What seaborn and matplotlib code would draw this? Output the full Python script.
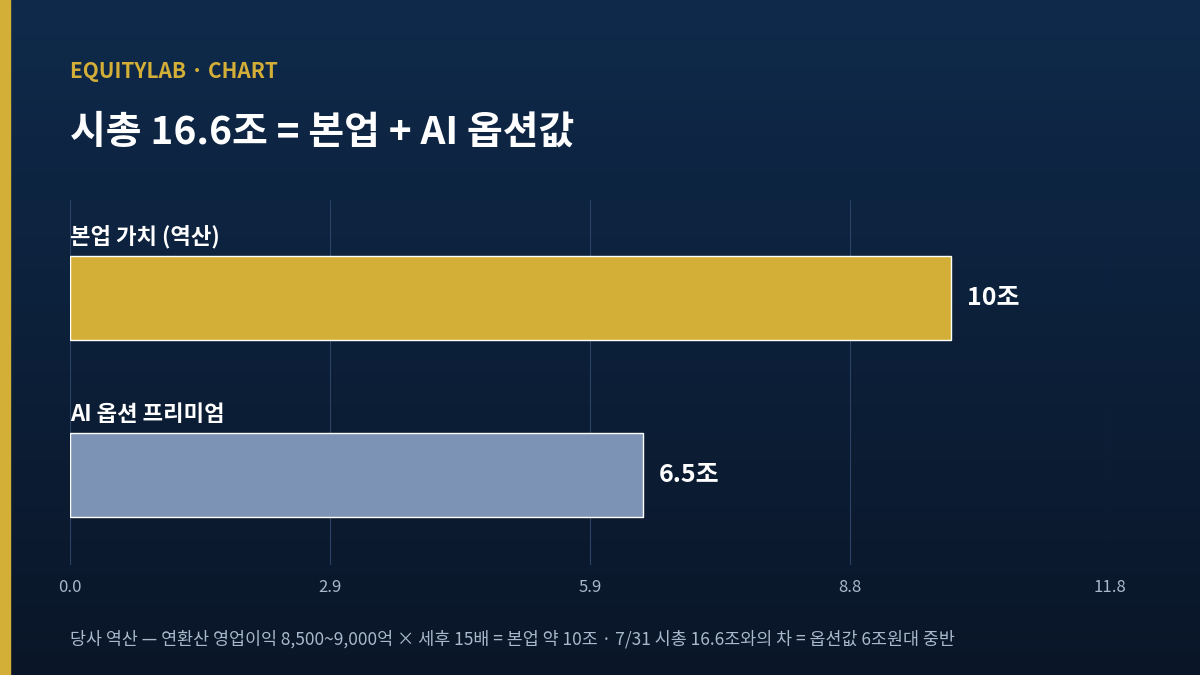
import matplotlib
matplotlib.use("Agg")
import matplotlib.pyplot as plt
import seaborn as sns
import numpy as np
import pandas as pd

categories = ["본업 가치 (역산)", "AI 옵션 프리미엄"]
values = [10.0, 6.5]
value_labels = ["10조", "6.5조"]
tick_vals = [0.0, 2.95, 5.9, 8.85, 11.8]
tick_labels = ["0.0", "2.9", "5.9", "8.8", "11.8"]
colors = ["#d4af37", "#7d93b5"]

sns.set_theme(style="dark")
plt.rcParams['font.family'] = ['Noto Sans CJK KR', 'DejaVu Sans']

fig = plt.figure(figsize=(12, 6.75), dpi=100)
bg = fig.add_axes([0, 0, 1, 1], zorder=-10)
grad = np.linspace(0, 1, 256).reshape(-1, 1)
from matplotlib.colors import LinearSegmentedColormap
cmap = LinearSegmentedColormap.from_list("bg", ["#0f2a4b", "#0a1628"])
bg.imshow(grad, aspect="auto", cmap=cmap, extent=[0, 1, 0, 1], origin="upper")
bg.add_patch(plt.Rectangle((0, 0), 10/1200, 1, color="#d4af37", transform=bg.transAxes))
bg.set_axis_off()

ax = fig.add_axes([70/1200, 1 - 565/675, 1040/1200, 365/675])
ax.set_facecolor("none")
df = pd.DataFrame({"cat": categories, "val": values})
sns.barplot(data=df, y="cat", x="val", hue="cat", palette=colors, orient="h",
            width=0.475, ax=ax, legend=False, saturation=1)
ax.set_xlim(0, 11.8)
ax.set_ylim(1.508, -0.554)
ax.set_xticks(tick_vals)
ax.set_xticklabels(tick_labels, color="#a9b8cc", fontsize=12)
ax.tick_params(axis="x", length=0, pad=10)
ax.set_yticks([])
ax.set_xlabel(""); ax.set_ylabel("")
ax.grid(axis="x", color="#2a4366", linewidth=0.8)
ax.grid(axis="y", visible=False)
for s in ax.spines.values():
    s.set_visible(False)
for i, (v, lab, c) in enumerate(zip(values, value_labels, categories)):
    ax.text(v + 0.18, i, lab, va="center", ha="left", color="white", fontsize=18, fontweight="bold")
    ax.text(0, i - 0.28, c, va="bottom", ha="left", color="white", fontsize=16, fontweight="bold")

fig.text(70/1200, 1 - 71/675, "EQUITYLAB · CHART", color="#d4af37", fontsize=15, fontweight="bold", va="center")
fig.text(70/1200, 1 - 132/675, "시총 16.6조 = 본업 + AI 옵션값", color="white", fontsize=28, fontweight="bold", va="center")
fig.text(70/1200, 1 - 639/675, "당사 역산 — 연환산 영업이익 8,500~9,000억 × 세후 15배 = 본업 약 10조 · 7/31 시총 16.6조와의 차 = 옵션값 6조원대 중반",
         color="#a9b8cc", fontsize=12.5, va="center")
fig.savefig("out.png", dpi=100)
